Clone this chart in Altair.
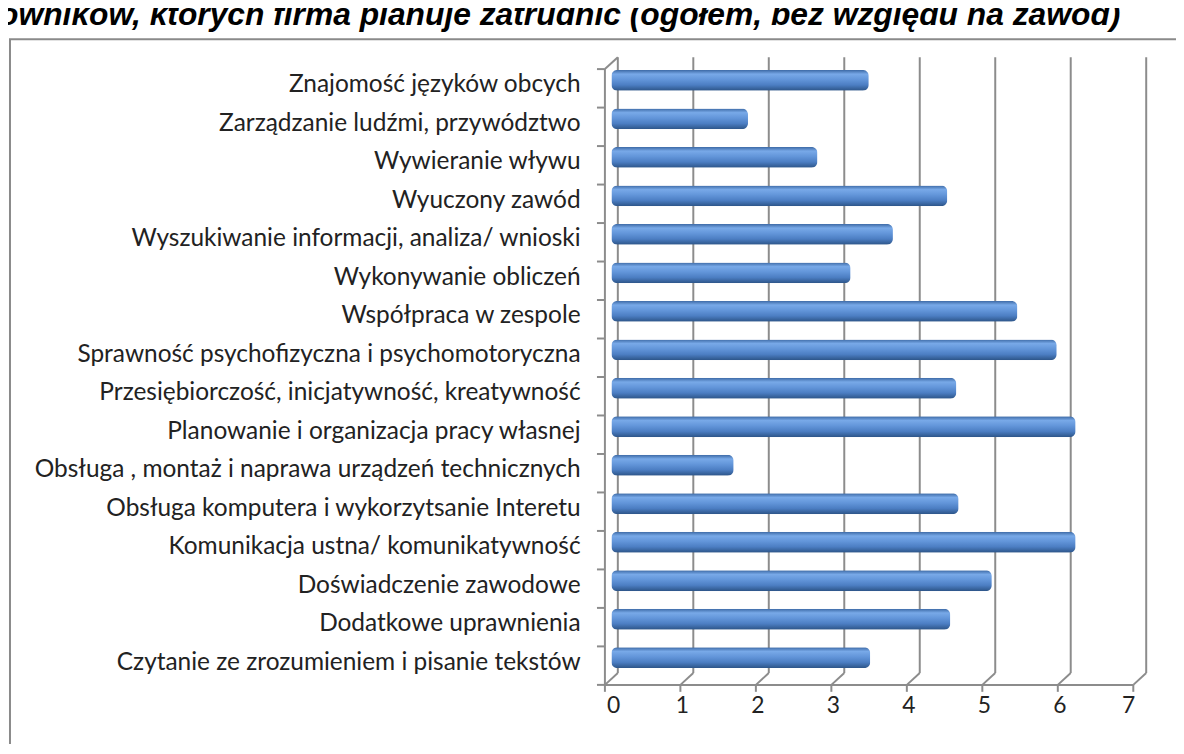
import altair as alt
import pandas as pd

categories = [
    "Znajomość języków obcych",
    "Zarządzanie ludźmi, przywództwo",
    "Wywieranie wływu",
    "Wyuczony zawód",
    "Wyszukiwanie informacji, analiza/ wnioski",
    "Wykonywanie obliczeń",
    "Współpraca w zespole",
    "Sprawność psychofizyczna i psychomotoryczna",
    "Przesiębiorczość, inicjatywność, kreatywność",
    "Planowanie i organizacja pracy własnej",
    "Obsługa , montaż i naprawa urządzeń technicznych",
    "Obsługa komputera i wykorzytsanie Interetu",
    "Komunikacja ustna/ komunikatywność",
    "Doświadczenie zawodowe",
    "Dodatkowe uprawnienia",
    "Czytanie ze zrozumieniem i pisanie tekstów",
]
values = [3.41, 1.81, 2.73, 4.45, 3.73, 3.17, 5.38, 5.90, 4.57, 6.15,
          1.62, 4.60, 6.15, 5.04, 4.49, 3.43]
ticks = [0, 1, 2, 3, 4, 5, 6, 7]
title_text = "owników, których firma planuje zatrudnić (ogółem, bez względu na zawód)"

# plot area = middle depth plane of the pseudo-3D chart
PL, PT = 607.5, 53
W, H = 532, 620
DX, DY = 6.5, 6
GRID = "#8c8c8c"

bars_df = pd.DataFrame({"cat": categories, "value": values})
ticks_df = pd.DataFrame({"t": ticks})
one = pd.DataFrame({"a": [0]})

xscale = alt.Scale(domain=[0, 7], nice=False, zero=False)
yscale = alt.Scale(domain=categories, paddingInner=0, paddingOuter=0)

xaxis = alt.Axis(values=ticks, domain=False, ticks=False, grid=False, title=None,
                 labelFont="Lato", labelFontSize=23, labelColor="#222222",
                 labelPadding=16, labelOffset=-5, format="d")
yaxis = alt.Axis(domain=False, ticks=False, grid=False, title=None,
                 labelFont="Lato", labelFontSize=24.6, labelColor="#222222",
                 labelPadding=31.5, labelLimit=620, labelOffset=3)

frame = alt.Chart(one).mark_rect(fill="transparent", stroke="#8a8a8a", strokeWidth=2).encode(
    x=alt.value(10 - (PL + 8)), x2=alt.value(620), y=alt.value(37 - (PT + 8)), y2=alt.value(730)
)

title = alt.Chart(one).mark_text(
    text=title_text, font="Liberation Sans", fontSize=32, fontWeight="bold",
    fontStyle="italic", align="right", baseline="alphabetic", color="#000000"
).encode(x=alt.value(1128 - (PL + 8)), y=alt.value(23 - (PT + 8)))

back_grid = alt.Chart(ticks_df).mark_rule(color=GRID, strokeWidth=2, xOffset=DX).encode(
    x=alt.X("t:Q", scale=xscale, axis=xaxis),
    y=alt.value(-DY), y2=alt.value(H - DY)
)

diag_top = alt.Chart(one).mark_rule(color=GRID, strokeWidth=2).encode(
    x=alt.value(-DX), x2=alt.value(DX), y=alt.value(DY), y2=alt.value(-DY)
)

left_axis = alt.Chart(one).mark_rule(color=GRID, strokeWidth=2).encode(
    x=alt.value(-DX), y=alt.value(DY), y2=alt.value(H + DY)
)

left_ticks = alt.Chart(bars_df).mark_rule(color=GRID, strokeWidth=2, yOffset=DY).encode(
    y=alt.Y("cat:N", sort=categories, scale=yscale, axis=yaxis, bandPosition=0),
    x=alt.value(-DX - 8), x2=alt.value(-DX)
)
left_tick_last = alt.Chart(one).mark_rule(color=GRID, strokeWidth=2).encode(
    y=alt.value(H + DY), x=alt.value(-DX - 8), x2=alt.value(-DX)
)

bottom_axis = alt.Chart(one).mark_rule(color=GRID, strokeWidth=2).encode(
    x=alt.value(-DX), x2=alt.value(W - DX), y=alt.value(H + DY)
)
bottom_ticks = alt.Chart(ticks_df).mark_rule(color=GRID, strokeWidth=2, xOffset=-DX).encode(
    x=alt.X("t:Q", scale=xscale, axis=xaxis),
    y=alt.value(H + DY), y2=alt.value(H + DY + 7)
)
bottom_diag = alt.Chart(ticks_df).mark_rule(color=GRID, strokeWidth=2, xOffset=-DX, x2Offset=DX).encode(
    x=alt.X("t:Q", scale=xscale, axis=xaxis), x2="t:Q",
    y=alt.value(H + DY), y2=alt.value(H - DY)
)

grad = alt.Gradient(
    gradient="linear", x1=0, y1=0, x2=0, y2=1,
    stops=[
        alt.GradientStop(color="#3c69a5", offset=0),
        alt.GradientStop(color="#78a9e8", offset=0.2),
        alt.GradientStop(color="#6396da", offset=0.45),
        alt.GradientStop(color="#4c7ec3", offset=0.72),
        alt.GradientStop(color="#2c5487", offset=1),
    ],
)
bars = alt.Chart(bars_df).mark_bar(size=21, cornerRadius=6, color=grad, yOffset=-2).encode(
    x=alt.X("value:Q", scale=xscale, axis=xaxis),
    y=alt.Y("cat:N", sort=categories, scale=yscale, axis=yaxis),
)

chart = alt.layer(
    frame, title, back_grid, diag_top, left_axis, left_ticks, left_tick_last,
    bottom_axis, bottom_ticks, bottom_diag, bars
).properties(
    width=W, height=H,
    autosize=alt.AutoSizeParams(type="none"),
    padding={"left": PL, "top": PT, "right": 1176 - PL - W, "bottom": 736 - PT - H},
).configure_view(stroke=None)

chart.save("out.html", embed_options={"renderer": "svg", "actions": False})
